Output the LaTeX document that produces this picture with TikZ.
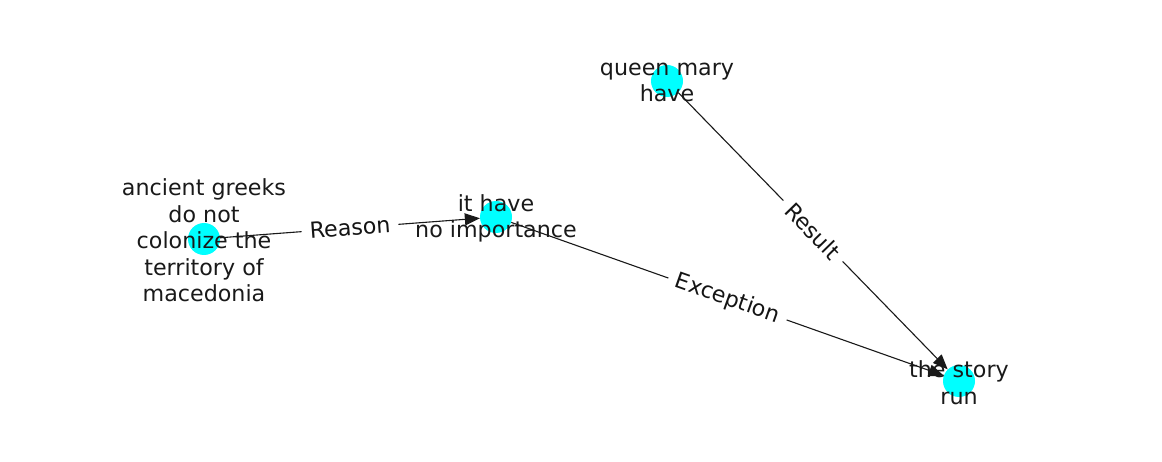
\documentclass[tikz,border=0pt]{standalone}
\usepackage{fontspec}
\setmainfont{DejaVu Sans}
\usetikzlibrary{arrows.meta}
\definecolor{nodecyan}{RGB}{0,255,255}

\begin{document}
\begin{tikzpicture}[
    x=1pt, y=-1pt,
    >={Triangle[length=15pt,width=12pt]},
    concept/.style={
        circle,
        fill=nodecyan,
        minimum size=32pt,
        inner sep=0pt
    },
    caption/.style={
        font=\fontsize{22.2}{26.6}\selectfont,
        text=black!90,
        align=center,
        inner sep=0pt
    },
    relation/.style={
        ->,
        line width=1.1pt,
        black!90
    },
    edgelabel/.style={
        sloped,
        fill=white,
        font=\fontsize{22.2}{26.6}\selectfont,
        text=black!92,
        inner xsep=8pt,
        inner ysep=3pt
    }
]

\useasboundingbox (0,0) rectangle (1162,462);

% Concept nodes
\node[concept] (greeks)     at (204,239) {};
\node[concept] (importance) at (496,217) {};
\node[concept] (queen)      at (667,81)  {};
\node[concept] (story)      at (959,381) {};

% Node captions, drawn over the circles
\node[caption] (greekstxt)     at (204,240.5) {ancient greeks\\do not\\colonize the\\territory of\\macedonia};
\node[caption] (importancetxt) at (496,218.5) {it have\\no importance};
\node[caption] (queentxt)      at (667,82.5)  {queen mary\\have};
\node[caption] (storytxt)      at (959,382.5) {the story\\run};

% Relations
\draw[relation] (greeks) -- node[edgelabel] {Reason} (importance);
\draw[relation] (importance) -- node[edgelabel] {Exception} (story);
\draw[relation] (queen) -- node[edgelabel] {Result} (story);

\end{tikzpicture}
\end{document}
